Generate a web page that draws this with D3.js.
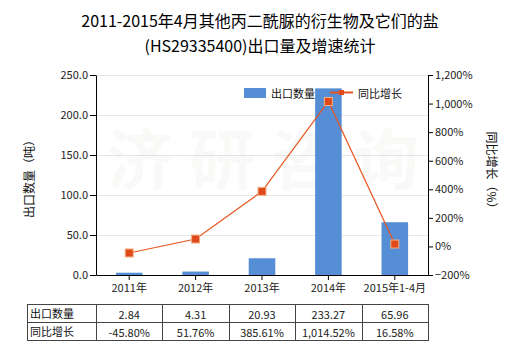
<!DOCTYPE html>
<html><head><meta charset="utf-8">
<script src="https://cdn.jsdelivr.net/npm/d3@7"></script>
<style>body{margin:0;background:#fff}svg{display:block}text{font-family:"Noto Sans CJK SC","Noto Sans",sans-serif}</style>
</head><body>
<script>
const categories = ["2011年","2012年","2013年","2014年","2015年1-4月"];
const exportQty = [2.84, 4.31, 20.93, 233.27, 65.96];
const growth = [-45.80, 51.76, 385.61, 1014.52, 16.58];
const qtyLabels = ["2.84","4.31","20.93","233.27","65.96"];
const growthLabels = ["-45.80%","51.76%","385.61%","1,014.52%","16.58%"];
const leftTicks = [0,50,100,150,200,250];
const rightTicks = [-200,0,200,400,600,800,1000,1200];

const W=520,H=350;
const svg=d3.select("body").append("svg").attr("width",W).attr("height",H);
const L=96,R=428,T=75,B=275;
const x=d3.scaleBand().domain(categories).range([L,R]).paddingInner(0.6).paddingOuter(0.3);
const xc=d3.scaleBand().domain(categories).range([L,R]);
const y=d3.scaleLinear().domain([0,250]).range([B,T]);
const y2=d3.scaleLinear().domain([-200,1200]).range([B,T]);

// title
const title=svg.append("text").attr("x",260).attr("text-anchor","middle").attr("font-size",16).attr("fill","#000");
title.append("tspan").attr("x",260).attr("y",27).text("2011-2015年4月其他丙二酰脲的衍生物及它们的盐");
title.append("tspan").attr("x",260).attr("y",52).text("(HS29335400)出口量及增速统计");

// grid
svg.append("g").selectAll("line").data(leftTicks.filter(d=>d>0)).join("line")
  .attr("x1",L).attr("x2",R).attr("y1",d=>Math.round(y(d))+0.5).attr("y2",d=>Math.round(y(d))+0.5)
  .attr("stroke","#e4e8e8").attr("stroke-width",1);

// watermark (very faint)
const wm=svg.append("g").attr("opacity",0.07);
["济","研","咨","询"].forEach((ch,i)=>{
  wm.append("text").attr("x",140+i*82).attr("y",184).attr("text-anchor","middle").attr("font-size",66)
    .attr("font-weight","bold").attr("fill","#b0b0a0").text(ch);
});

// bars
svg.append("g").selectAll("rect").data(exportQty).join("rect")
  .attr("x",(d,i)=>x(categories[i])).attr("width",x.bandwidth())
  .attr("y",d=>y(d)).attr("height",d=>B-y(d)).attr("fill","#558ed5");

// line
const line=d3.line().x((d,i)=>xc(categories[i])+xc.bandwidth()/2).y(d=>y2(d));
svg.append("path").datum(growth).attr("d",line).attr("fill","none").attr("stroke","#e8541e").attr("stroke-width",1.2);
svg.append("g").selectAll("rect").data(growth).join("rect")
  .attr("x",(d,i)=>xc(categories[i])+xc.bandwidth()/2-4).attr("y",d=>y2(d)-4)
  .attr("width",8).attr("height",8).attr("fill","#e04a1a").attr("stroke","#f4b183").attr("stroke-width",1);

// axes
const fmtL=d3.format(".1f");
const ga=svg.append("g").attr("transform",`translate(${L},0)`).call(d3.axisLeft(y).tickValues(leftTicks).tickFormat(fmtL).tickSize(6).tickSizeOuter(0));
const gb=svg.append("g").attr("transform",`translate(${R},0)`).call(d3.axisRight(y2).tickValues(rightTicks).tickFormat(d=>d3.format(",")(d)+"%").tickSize(5).tickSizeOuter(0));
const gx=svg.append("g").attr("transform",`translate(0,${B})`).call(d3.axisBottom(xc).tickSize(5).tickSizeOuter(0));
[ga,gb,gx].forEach(g=>{g.selectAll("path,line").attr("stroke","#000");g.selectAll("text").attr("font-size",11).attr("fill","#222").attr("font-family","'Noto Sans CJK SC',sans-serif");});
ga.selectAll("text").attr("x",-8);
gb.selectAll("text").attr("x",7);
gx.selectAll("text").attr("y",9).attr("font-size",11);

// axis titles
svg.append("text").attr("transform","translate(34,176) rotate(-90)").attr("text-anchor","middle").attr("font-size",12).attr("fill","#111").text("出口数量（吨）");
svg.append("text").attr("transform","translate(487,173) rotate(90)").attr("text-anchor","middle").attr("font-size",12).attr("fill","#111").text("同比增长（%）");

// legend
svg.append("rect").attr("x",244).attr("y",88).attr("width",22).attr("height",10).attr("fill","#558ed5");
svg.append("text").attr("x",271).attr("y",97.5).attr("font-size",11).attr("fill","#111").text("出口数量");
svg.append("line").attr("x1",330).attr("x2",353).attr("y1",92.5).attr("y2",92.5).attr("stroke","#e8541e").attr("stroke-width",2);
svg.append("rect").attr("x",339).attr("y",90).attr("width",5).attr("height",5).attr("fill","#e04a1a");
svg.append("text").attr("x",358).attr("y",97.5).attr("font-size",11).attr("fill","#111").text("同比增长");

// table
const tT=304.5,tM=322.5,tB=340.5,tL=27;
const tg=svg.append("g");
const colX=[tL,L].concat(categories.map(c=>xc(c)+xc.bandwidth()));
tg.append("rect").attr("x",tL+0.5).attr("y",tT).attr("width",R-tL).attr("height",tB-tT).attr("fill","none").attr("stroke","#444");
tg.append("line").attr("x1",tL).attr("x2",R+0.5).attr("y1",tM).attr("y2",tM).attr("stroke","#444");
colX.slice(1,-1).forEach(cx=>tg.append("line").attr("x1",Math.round(cx)+0.5).attr("x2",Math.round(cx)+0.5).attr("y1",tT).attr("y2",tB).attr("stroke","#444"));
tg.append("text").attr("x",tL+3).attr("y",318).attr("font-size",11).attr("fill","#111").text("出口数量");
tg.append("text").attr("x",tL+3).attr("y",336).attr("font-size",11).attr("fill","#111").text("同比增长");
categories.forEach((c,i)=>{
  const cx=xc(c)+xc.bandwidth()/2;
  tg.append("text").attr("x",cx).attr("y",319).attr("text-anchor","middle").attr("font-size",11).attr("fill","#222").text(qtyLabels[i]);
  tg.append("text").attr("x",cx).attr("y",337).attr("text-anchor","middle").attr("font-size",11).attr("fill","#222").text(growthLabels[i]);
});
</script>
</body></html>
